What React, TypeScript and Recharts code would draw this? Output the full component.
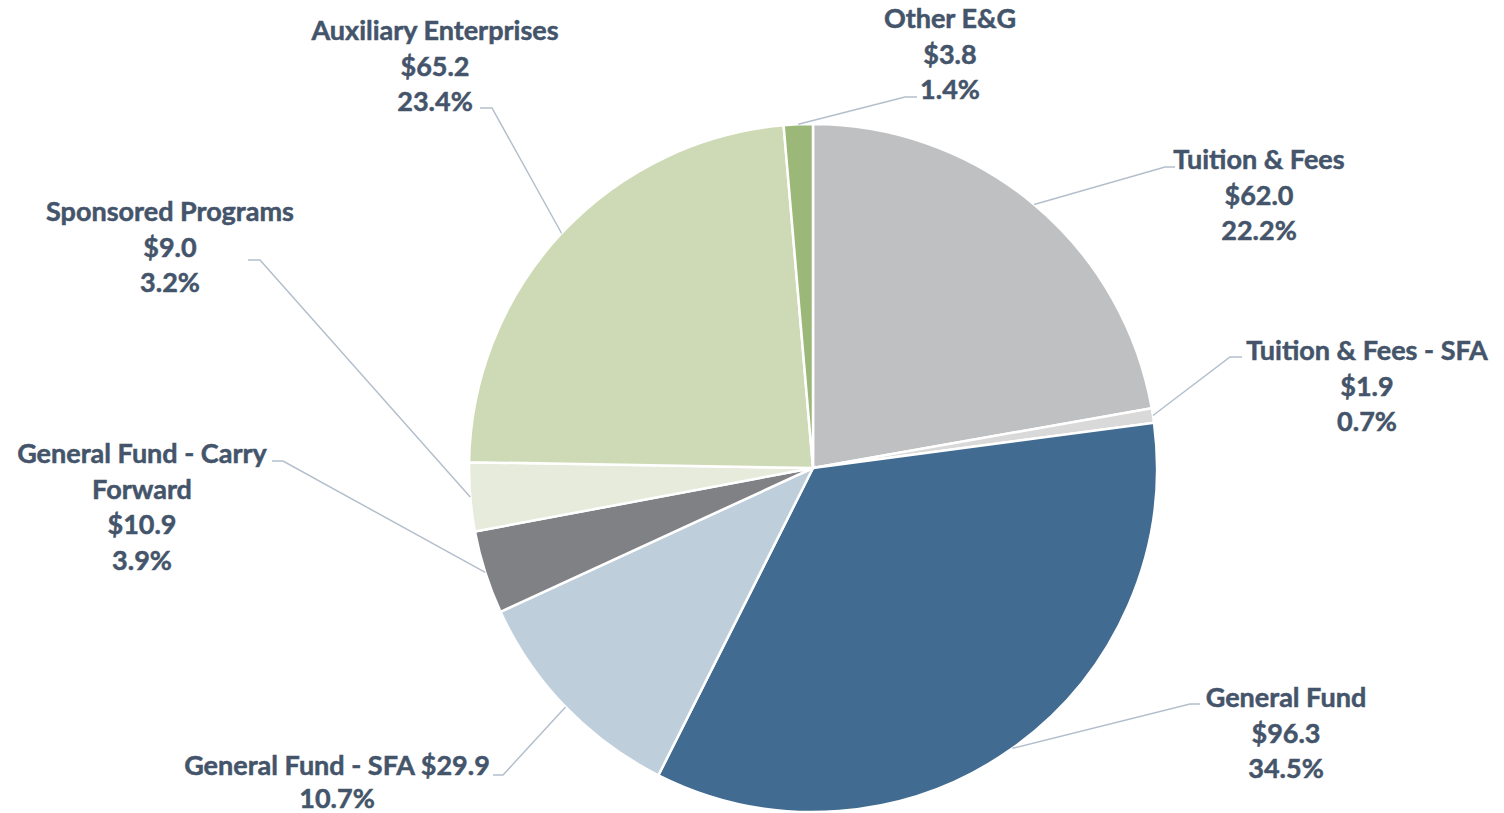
import React from "react";
import { PieChart, Pie, Cell } from "recharts";

const categories = [
  "Tuition & Fees",
  "Tuition & Fees - SFA",
  "General Fund",
  "General Fund - SFA",
  "General Fund - Carry Forward",
  "Sponsored Programs",
  "Auxiliary Enterprises",
  "Other E&G",
];
const amounts = [62.0, 1.9, 96.3, 29.9, 10.9, 9.0, 65.2, 3.8];
const percents = ["22.2%", "0.7%", "34.5%", "10.7%", "3.9%", "3.2%", "23.4%", "1.4%"];
// how each label's text is broken into lines
const labelLines = [
  ["Tuition & Fees", "$62.0", "22.2%"],
  ["Tuition & Fees - SFA", "$1.9", "0.7%"],
  ["General Fund", "$96.3", "34.5%"],
  ["General Fund - SFA $29.9", "10.7%"],
  ["General Fund - Carry", "Forward", "$10.9", "3.9%"],
  ["Sponsored Programs", "$9.0", "3.2%"],
  ["Auxiliary Enterprises", "$65.2", "23.4%"],
  ["Other E&G", "$3.8", "1.4%"],
];

const colors = ["#BFC0C2", "#D9D9D9", "#416B91", "#BFCEDB", "#808184", "#E6EBDC", "#CEDAB5", "#9BB878"];

// label layout relative to pie centre: text centre x, first line y, line gap, leader elbow, leader end
const labelLayout = [
  { tx: 446, ty: -310, lh: 35.5, ex: 352, ey: -301, hx: 362 },
  { tx: 554, ty: -119, lh: 35.5, ex: 417, ey: -111, hx: 429 },
  { tx: 473, ty: 228, lh: 35.5, ex: 377, ey: 236, hx: 387 },
  { tx: -476, ty: 296, lh: 33, ex: -310, ey: 307, hx: -320 },
  { tx: -671, ty: -16, lh: 35.5, ex: -530, ey: -7, hx: -541 },
  { tx: -643, ty: -258, lh: 35.5, ex: -553, ey: -208, hx: -565 },
  { tx: -378, ty: -439, lh: 35.5, ex: -321, ey: -360, hx: -333 },
  { tx: 137, ty: -451, lh: 35.5, ex: 92, ey: -371, hx: 104 },
];

const data = categories.map((name, i) => ({ name, value: amounts[i], pct: percents[i] }));

const RAD = Math.PI / 180;

const renderLabel = (props: any) => {
  const { cx, cy, midAngle, outerRadius, index } = props;
  const lay = labelLayout[index];
  const sx = cx + Math.cos(-midAngle * RAD) * outerRadius;
  const sy = cy + Math.sin(-midAngle * RAD) * outerRadius;
  const lines = labelLines[index];
  return (
    <g key={`lbl-${index}`}>
      <polyline
        points={`${sx},${sy} ${cx + lay.ex},${cy + lay.ey} ${cx + lay.hx},${cy + lay.ey}`}
        fill="none"
        stroke="#B4BFCC"
        strokeWidth={1.5}
      />
      <text
        x={cx + lay.tx}
        y={cy + lay.ty}
        textAnchor="middle"
        dominantBaseline="central"
        fill="#44546A"
        stroke="#44546A"
        strokeWidth={0.5}
        fontFamily="Lato, 'Open Sans', sans-serif"
        fontWeight={700}
        fontSize={27}
      >
        {lines.map((l, j) => (
          <tspan key={j} x={cx + lay.tx} y={cy + lay.ty + j * lay.lh}>
            {l}
          </tspan>
        ))}
      </text>
    </g>
  );
};

export default function App() {
  return (
    <div style={{ width: 1504, height: 813, background: "#fff" }}>
      <style>{`body{margin:0;}`}</style>
      <PieChart width={1504} height={813} margin={{ top: 0, right: 0, bottom: 0, left: 0 }}>
        <Pie
          data={data}
          dataKey="value"
          nameKey="name"
          cx={813}
          cy={468}
          outerRadius={344}
          startAngle={90}
          endAngle={-270}
          stroke="#FFFFFF"
          strokeWidth={2.5}
          label={renderLabel}
          labelLine={false}
          isAnimationActive={false}
        >
          {data.map((d, i) => (
            <Cell key={d.name} fill={colors[i]} />
          ))}
        </Pie>
      </PieChart>
    </div>
  );
}
